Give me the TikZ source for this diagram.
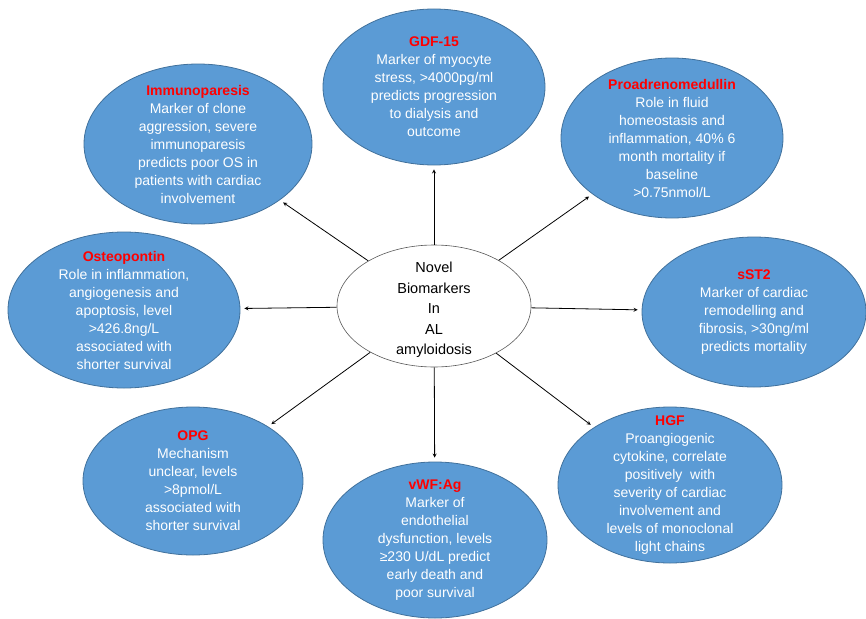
\documentclass[tikz,border=0pt]{standalone}
\usepackage{fontspec}
\setmainfont{Liberation Sans}
\usetikzlibrary{shapes.geometric,arrows}
\definecolor{bubble}    {HTML}{5B9BD5}
\definecolor{bubbleline}{HTML}{41719C}
\definecolor{headred}   {HTML}{FF0000}
\definecolor{hubline}   {HTML}{595959}
\tikzset{
  >=stealth,
  every node/.style={font=\fontsize{14}{18}\selectfont},
  % --- nodes
  bub/.style    = {ellipse, draw=bubbleline, fill=bubble, line width=0.8pt, inner sep=0pt},
  bubtxt/.style = {align=center, text=white, inner sep=0pt},
  hub/.style    = {ellipse, draw=hubline, fill=white, line width=0.6pt, inner sep=0pt,
                   minimum width=194pt, minimum height=122pt},
  hubtxt/.style = {align=center, text=black, inner sep=0pt,
                   font=\fontsize{14.5}{20.5}\selectfont},
  % --- edges
  spoke/.style  = {-stealth, line width=0.8pt, draw=black, shorten >=4pt},
}
\newcommand{\hd}[1]{\textcolor{headred}{\textbf{#1}}}

\begin{document}
\begin{tikzpicture}[x=1pt,y=-1pt]
  \useasboundingbox (0,0) rectangle (866,618);

  % outer bubbles
  \node[bub, minimum width=222pt, minimum height=156pt] (gdf) at (434,87)  {};
  \node[bub, minimum width=228pt, minimum height=160pt] (imm) at (198,144) {};
  \node[bub, minimum width=222pt, minimum height=160pt] (pro) at (672,138) {};
  \node[bub, minimum width=232pt, minimum height=156pt] (ost) at (124,310) {};
  \node[bub, minimum width=224pt, minimum height=150pt] (sst) at (754,312) {};
  \node[bub, minimum width=220pt, minimum height=148pt] (opg) at (193,481) {};
  \node[bub, minimum width=224pt, minimum height=156pt] (vwf) at (435,540) {};
  \node[bub, minimum width=224pt, minimum height=156pt] (hgf) at (670,485) {};

  % bubble texts
  \node[bubtxt] (gdf-t) at (gdf) {\hd{GDF-15}\\Marker of myocyte\\stress, >4000pg/ml\\predicts progression\\to dialysis and\\outcome};
  \node[bubtxt] (imm-t) at (imm) {\hd{Immunoparesis}\\Marker of clone\\aggression, severe\\immunoparesis\\predicts poor OS in\\patients with cardiac\\involvement};
  \node[bubtxt] (pro-t) at (pro) {\hd{Proadrenomedullin}\\Role in fluid\\homeostasis and\\inflammation, 40\% 6\\month mortality if\\baseline\\>0.75nmol/L};
  \node[bubtxt] (ost-t) at (ost) {\hd{Osteopontin}\\Role in inflammation,\\angiogenesis and\\apoptosis, level\\>426.8ng/L\\associated with\\shorter survival};
  \node[bubtxt] (sst-t) at (sst) {\hd{sST2}\\Marker of cardiac\\remodelling and\\fibrosis, >30ng/ml\\predicts mortality};
  \node[bubtxt] (opg-t) at (opg) {\hd{OPG}\\Mechanism\\unclear, levels\\>8pmol/L\\associated with\\shorter survival};
  \node[bubtxt] (vwf-t) at (vwf) {\hd{vWF:Ag}\\Marker of\\endothelial\\dysfunction, levels\\≥230 U/dL predict\\early death and\\poor survival};
  \node[bubtxt] (hgf-t) at (hgf) {\hd{HGF}\\Proangiogenic\\cytokine, correlate\\positively~ with\\severity of cardiac\\involvement and\\levels of monoclonal\\light chains};

  % centre
  \node[hub] (hub) at (434,306) {};
  \node[hubtxt] (hub-t) at (434,310) {Novel\\Biomarkers\\In\\AL\\amyloidosis};

  % spokes
  \foreach \b in {gdf,imm,pro,ost,sst,opg,vwf,hgf}
    \draw[spoke] (hub) -- (\b);
\end{tikzpicture}
\end{document}
